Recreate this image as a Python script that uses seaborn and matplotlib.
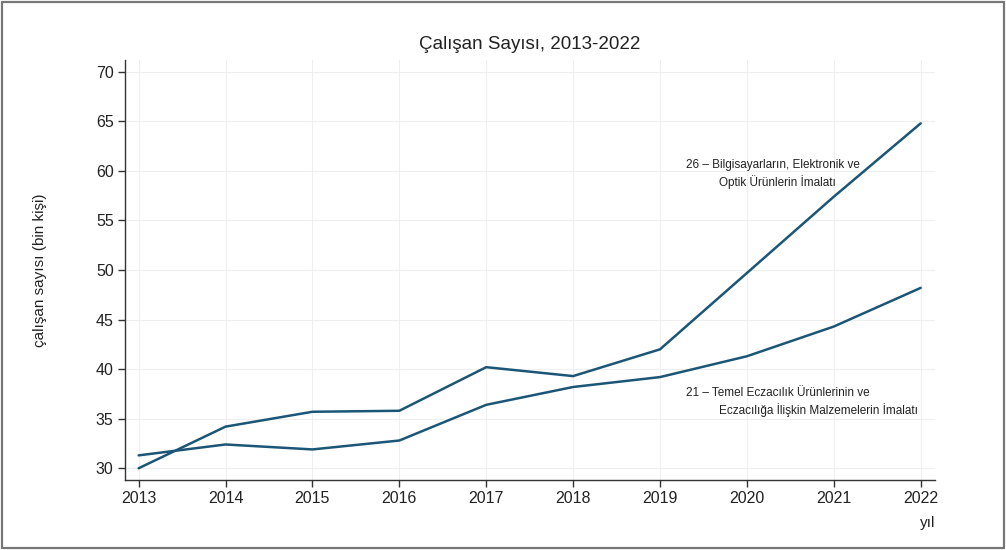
import pandas as pd
import matplotlib
matplotlib.use("Agg")
import matplotlib.pyplot as plt
import seaborn as sns
from matplotlib.patches import Rectangle

# data (bin kişi)
years = [2013, 2014, 2015, 2016, 2017, 2018, 2019, 2020, 2021, 2022]
nace26 = [30.0, 34.2, 35.7, 35.8, 40.2, 39.3, 42.0, 49.7, 57.4, 64.8]
nace21 = [31.3, 32.4, 31.9, 32.8, 36.4, 38.2, 39.2, 41.3, 44.3, 48.2]
yticks = [30, 35, 40, 45, 50, 55, 60, 65, 70]

df = pd.DataFrame({
    "yil": years * 2,
    "calisan": nace26 + nace21,
    "sektor": ["26"] * len(years) + ["21"] * len(years),
})

sns.set_theme(style="white")
plt.rcParams["font.family"] = ["Liberation Sans", "DejaVu Sans"]

line_color = "#1b5676"
fig = plt.figure(figsize=(10.06, 5.5), dpi=100)
ax = fig.add_axes([0.124, 0.127, 0.805, 0.764])

sns.lineplot(data=df, x="yil", y="calisan", units="sektor", estimator=None,
             color=line_color, linewidth=1.8, ax=ax)

ax.set_xlim(2012.84, 2022.16)
ax.set_ylim(28.8, 71.2)
ax.set_xticks(years)
ax.set_yticks(yticks)
ax.tick_params(axis="both", direction="out", length=5, width=1, color="#333333",
               bottom=True, left=True,
               labelsize=11.5, labelcolor="#222222", pad=3)
ax.grid(True, color="#efefef", linewidth=0.8)
sns.despine(ax=ax)
for s in ["left", "bottom"]:
    ax.spines[s].set_color("#333333")
    ax.spines[s].set_linewidth(1.0)

ax.set_title("Çalışan Sayısı, 2013-2022", fontsize=13.5, color="#222222", pad=8)
ax.set_xlabel("")
ax.set_ylabel("çalışan sayısı (bin kişi)", fontsize=11, color="#222222")
ax.yaxis.set_label_coords(-0.096, 0.50)
ax.text(0.991, -0.103, "yıl", transform=ax.transAxes, fontsize=11,
        color="#222222", ha="center", va="center")

# series labels
ax.text(2019.3, 60.6, "26 – Bilgisayarların, Elektronik ve", fontsize=8.5,
        color="#222222", ha="left", va="center")
ax.text(2019.68, 58.9, "Optik Ürünlerin İmalatı", fontsize=8.5,
        color="#222222", ha="left", va="center")
ax.text(2019.3, 37.6, "21 – Temel Eczacılık Ürünlerinin ve", fontsize=8.5,
        color="#222222", ha="left", va="center")
ax.text(2019.68, 35.9, "Eczacılığa İlişkin Malzemelerin İmalatı", fontsize=8.5,
        color="#222222", ha="left", va="center")

# outer frame
fig.patches.append(Rectangle((0.002, 0.003), 0.996, 0.994, transform=fig.transFigure,
                             fill=False, edgecolor="#777777", linewidth=1.6))

fig.savefig("out.png", dpi=100, facecolor="white")
